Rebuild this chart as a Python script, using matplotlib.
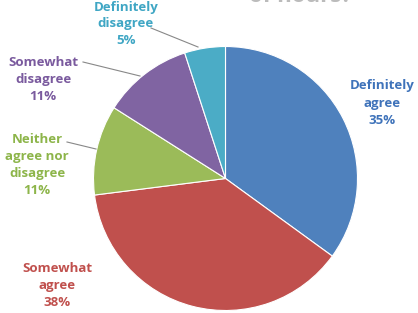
import matplotlib
matplotlib.use("Agg")
import matplotlib.pyplot as plt

# survey answers, clockwise from 12 o'clock
labels = ["Definitely\nagree", "Somewhat\nagree", "Neither\nagree nor\ndisagree",
          "Somewhat\ndisagree", "Definitely\ndisagree"]
shares = [35, 38, 11, 11, 5]
colors = ["#4F81BD", "#C0504D", "#9BBB59", "#8064A2", "#4BACC6"]
text_colors = ["#3F73BA", "#C0504D", "#8DB54A", "#7A5A9E", "#3FA6C4"]

# label anchor positions (pixel coords, y from top)
label_pos = [(382, 103), (57, 285), (37, 165), (43, 79), (126, 24)]
# leader lines: (from text, to slice)
leaders = {2: [(67, 142), (96, 149)],
           3: [(83, 62), (140, 76)],
           4: [(151, 28), (198, 47)]}

W, H = 418, 313
fig = plt.figure(figsize=(W / 100, H / 100), dpi=100)
ax = fig.add_axes([0, 0, 1, 1])

ax.pie(shares, colors=colors, startangle=90, counterclock=False,
       center=(225.5, H - 178.5), radius=132, frame=True,
       wedgeprops=dict(edgecolor="white", linewidth=0.8))
ax.set_xlim(0, W)
ax.set_ylim(0, H)
ax.set_aspect("equal")
ax.axis("off")

for i, (lab, pct) in enumerate(zip(labels, shares)):
    x, y = label_pos[i]
    ax.text(x, H - y, f"{lab}\n{pct}%", ha="center", va="center",
            color=text_colors[i], fontsize=9.5, fontweight="bold",
            family="Open Sans", linespacing=1.4)

for i, pts in leaders.items():
    ax.plot([p[0] for p in pts], [H - p[1] for p in pts], color="#888888", lw=0.8)

# title, cut off by the top edge
ax.text(300, H + 4, "of hours?", ha="center", va="center", color="#BBBBBB",
        fontsize=16, fontweight="bold", family="Open Sans", clip_on=False)

fig.savefig("out.png", dpi=100)
